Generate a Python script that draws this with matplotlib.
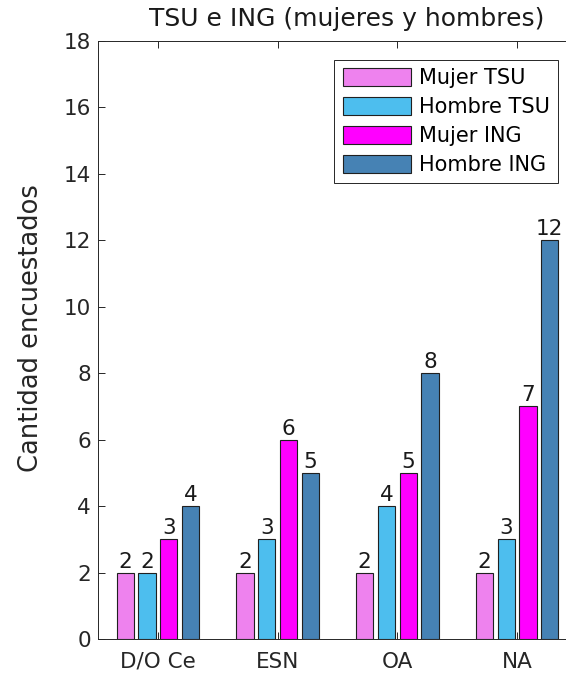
import numpy as np
import matplotlib
matplotlib.use('Agg')
import matplotlib.pyplot as plt

plt.rcParams['font.family'] = ['DejaVu Sans']

# Survey counts per category
categorias = ['D/O Ce', 'ESN', 'OA', 'NA']
series = ['Mujer TSU', 'Hombre TSU', 'Mujer ING', 'Hombre ING']
mujer_tsu = [2, 2, 2, 2]
hombre_tsu = [2, 3, 4, 3]
mujer_ing = [3, 6, 5, 7]
hombre_ing = [4, 5, 8, 12]
colores = ['#EE82EE', '#4DBEEE', '#FF00FF', '#4682B4']

valores = [mujer_tsu, hombre_tsu, mujer_ing, hombre_ing]

fig = plt.figure(figsize=(5.66, 6.8), dpi=100)
ax = fig.add_axes([98 / 566, 41 / 680, 479 / 566, 598 / 680])

# Grouped bars, same spacing rules as MATLAB's bar()
x = np.arange(1, len(categorias) + 1)
n = len(series)
group_w = min(0.8, n / (n + 1.5))
step = group_w / n
width = step * 0.8

for k, (vals, c, name) in enumerate(zip(valores, colores, series)):
    pos = x - group_w / 2 + step * (k + 0.5)
    bars = ax.bar(pos, vals, width, color=c, edgecolor='#202020',
                  linewidth=0.8, label=name)
    for b, v in zip(bars, vals):
        ax.text(b.get_x() + b.get_width() / 2, v + 0.03, str(v),
                ha='center', va='bottom', fontsize=15.5, color='#1a1a1a')

ax.set_xlim(0.5, 4.5)
ax.set_ylim(0, 18)
ax.set_yticks(np.arange(0, 19, 2))
ax.set_xticks(x)
ax.set_xticklabels(categorias)

for s in ax.spines.values():
    s.set_color('#262626')
    s.set_linewidth(0.7)
ax.tick_params(direction='in', length=5, width=0.7, color='#262626',
               labelsize=15.5, labelcolor='#262626', top=True, right=True,
               pad=5)
ax.tick_params(axis='x', pad=9)

ax.set_ylabel('Cantidad encuestados', fontsize=18.5, color='#262626')
ax.yaxis.set_label_coords(-0.112, 0.52)
fig.text(347 / 566, 1 - 19 / 680, 'TSU e ING (mujeres y hombres)',
         ha='center', va='center', fontsize=18, color='#1a1a1a')

leg = ax.legend(loc='upper right', bbox_to_anchor=(558 / 566, 1 - 60 / 680),
                bbox_transform=fig.transFigure, fontsize=15,
                handlelength=3.3, handleheight=0.95, handletextpad=0.35,
                labelspacing=0.42, borderpad=0.4, borderaxespad=0,
                fancybox=False, framealpha=1)
leg.get_frame().set_edgecolor('#262626')
leg.get_frame().set_linewidth(0.7)

fig.savefig('out.png', dpi=100)
